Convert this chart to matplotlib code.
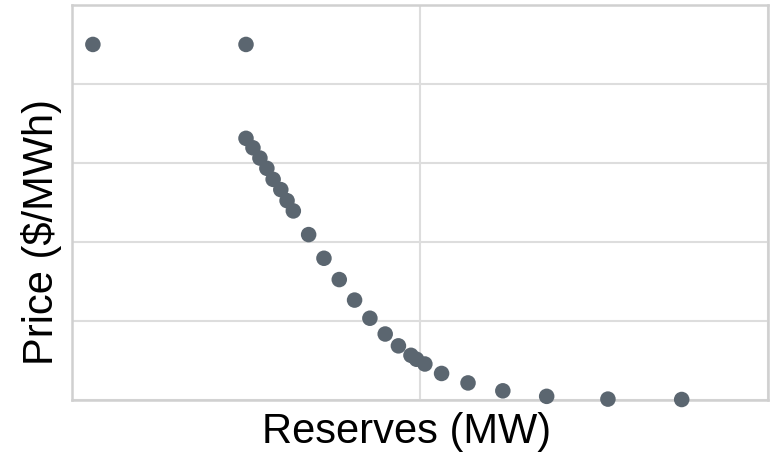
import matplotlib
matplotlib.use("Agg")
import matplotlib.pyplot as plt

reserves = [30, 250, 250, 260, 270, 280, 289, 300, 309, 318, 340, 362, 384, 406,
            428, 450, 469, 487, 495, 507, 531, 569, 619, 682, 770, 876]
price = [450, 450, 331, 319, 306, 293, 279, 266, 252, 239, 209, 179, 152, 126,
         103, 83, 68, 56, 51, 45, 33, 21, 11, 4, 0.5, 0]

x_label = "Reserves (MW)"
y_label = "Price ($/MWh)"

W, H = 773, 455
fig = plt.figure(figsize=(W / 100, H / 100), dpi=100)
ax = fig.add_axes([72 / W, (H - 399.5) / H, (768 - 72) / W, (399.5 - 5) / H])

ax.scatter(reserves, price, s=15.5 ** 2 * 0.52, color="#5b6670", edgecolors="none",
           clip_on=False, zorder=3)

ax.set_xlim(0, 1000)
ax.set_ylim(0, 500)
ax.set_xticks([0, 500, 1000])
ax.set_yticks([0, 100, 200, 300, 400, 500])
ax.tick_params(length=0, labelleft=False, labelbottom=False)
ax.grid(True, color="#dddddd", linewidth=1.5, zorder=0)
ax.set_axisbelow(True)
for s in ax.spines.values():
    s.set_color("#d0d0d0")
    s.set_linewidth(1.8)

fig.text(407 / W, 1 - 432 / H, x_label, fontsize=30, family="Liberation Sans",
         ha="center", va="center")
fig.text(41.5 / W, 1 - 232 / H, y_label, fontsize=30, family="Liberation Sans",
         ha="center", va="center", rotation=90)

fig.savefig("out.png", dpi=100)
